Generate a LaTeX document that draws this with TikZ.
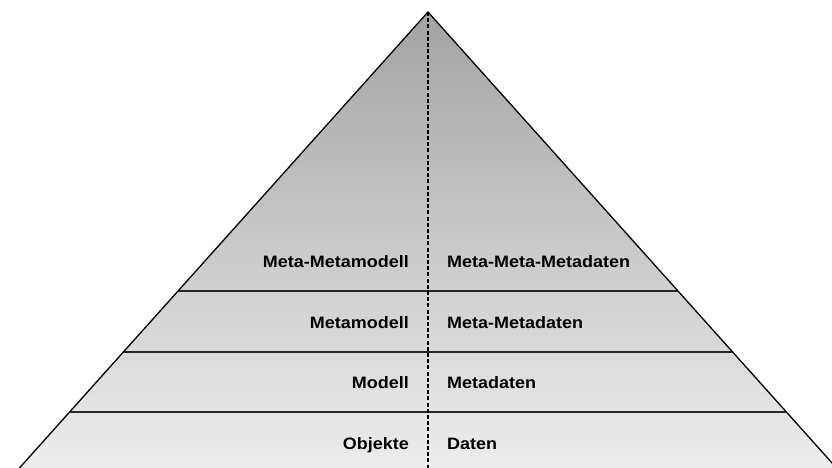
\documentclass[tikz,border=0pt]{standalone}
\usepackage{fontspec}
\setmainfont{Liberation Sans}
\begin{document}
\begin{tikzpicture}[x=1pt,y=-1pt,
  lbl/.style={inner sep=0pt,font=\fontsize{16.5}{19}\selectfont\bfseries},
  leftlbl/.style={lbl,anchor=base east},
  rightlbl/.style={lbl,anchor=base west},
  edge/.style={draw=black,line width=1.3pt},
  level/.style={draw=black!85,line width=1.4pt},
  axis/.style={draw=black,line width=2.6pt,dash pattern=on 4pt off 2.2pt}]
\useasboundingbox (0,0) rectangle (832,468);
\clip (0,0) rectangle (832,468);
\coordinate (apex) at (428,12);
\coordinate (bl) at (19,468.5);
\coordinate (br) at (837,468.5);
\coordinate (bot) at (428,468);
\shade[top color=black!36,bottom color=black!7] (apex) -- (bl) -- (br) -- cycle;
\foreach \yy/\nm in {291/a,352/b,412/c}{
  \pgfmathsetmacro{\hw}{0.896*(\yy-12)}
  \coordinate (L\nm) at (428-\hw,\yy);
  \coordinate (R\nm) at (428+\hw,\yy);
  \draw[level] (L\nm) -- (R\nm);
}
\draw[edge] (bl) -- (apex) -- (br);
\draw[axis] (apex) -- (bot);
\node[leftlbl] (l1) at (409,267) {\scalebox{1.09}[1]{Meta-Metamodell}};
\node[rightlbl] (r1) at (447,267) {\scalebox{1.09}[1]{Meta-Meta-Metadaten}};
\node[leftlbl] (l2) at (409,328) {\scalebox{1.09}[1]{Metamodell}};
\node[rightlbl] (r2) at (447,328) {\scalebox{1.09}[1]{Meta-Metadaten}};
\node[leftlbl] (l3) at (409,388.5) {\scalebox{1.09}[1]{Modell}};
\node[rightlbl] (r3) at (447,388.5) {\scalebox{1.09}[1]{Metadaten}};
\node[leftlbl] (l4) at (409,449) {\scalebox{1.09}[1]{Objekte}};
\node[rightlbl] (r4) at (447,449) {\scalebox{1.09}[1]{Daten}};
\end{tikzpicture}
\end{document}
